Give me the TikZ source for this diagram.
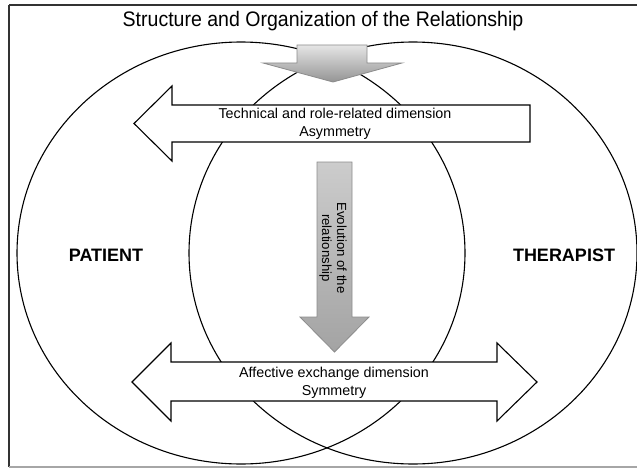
\documentclass[tikz,border=0pt]{standalone}
\usepackage{fontspec}
\setmainfont{Liberation Sans}
\usetikzlibrary{shadings}
\begin{document}
\begin{tikzpicture}[x=1pt,y=-1pt,
  ring/.style={draw=black, line width=1.1pt},
  whitearrow/.style={draw=black, line width=1.1pt, fill=white, line join=miter},
  grayarrow/.style={draw=black!45, line width=0.8pt, top color=black!10, bottom color=black!42},
  armlabel/.style={font=\fontsize{14.3}{18}\selectfont, align=center, inner sep=0pt},
  sidelabel/.style={font=\fontsize{18}{20}\selectfont\bfseries, inner sep=0pt}]
\useasboundingbox (0,0) rectangle (637,468);
% outer frame
\draw[black!80, line width=1.3pt] (9,5) -- (645,5) (9,5) -- (9,467);
\draw[black!35, line width=1.3pt] (9,467) -- (645,467);
% title
\node[inner sep=0pt] (title) at (323,21)
  {\scalebox{0.93}[1]{\fontsize{21}{24}\selectfont Structure and Organization of the Relationship}};
% the two overlapping circles
\draw[ring] (241,253) ellipse [x radius=224pt, y radius=211pt];
\draw[ring] (413,253) ellipse [x radius=224pt, y radius=211pt];
% downward arrow at the top
\shade[grayarrow] (297,45) -- (367,45) -- (367,63) -- (402,63) -- (333,82)
  -- (263,63) -- (297,63) -- cycle;
% left-pointing arrow: technical dimension
\draw[whitearrow] (530,105) -- (172,105) -- (172,86) -- (134,123.5) -- (172,161)
  -- (172,142) -- (530,142) -- cycle;
\node[armlabel] (tech) at (335,124) {Technical and role-related dimension\\Asymmetry};
% vertical arrow: evolution
\shade[grayarrow, top color=black!20, bottom color=black!36] (317,162) -- (352,162)
  -- (352,317) -- (369,317) -- (334.5,352) -- (300,317) -- (317,317) -- cycle;
\node[armlabel, rotate=-90, font=\fontsize{13.2}{15}\selectfont] (evol) at (333,248)
  {Evolution of the\\relationship};
% double arrow: affective dimension
\draw[whitearrow] (171,362) -- (497,362) -- (497,343) -- (537,382) -- (497,421)
  -- (497,401) -- (171,401) -- (171,421) -- (132,382) -- (171,343) -- cycle;
\node[armlabel] (affect) at (334,383) {Affective exchange dimension\\Symmetry};
% the two parties
\node[sidelabel] (patient) at (106,255) {PATIENT};
\node[sidelabel] (therapist) at (564,255) {THERAPIST};
\end{tikzpicture}
\end{document}
